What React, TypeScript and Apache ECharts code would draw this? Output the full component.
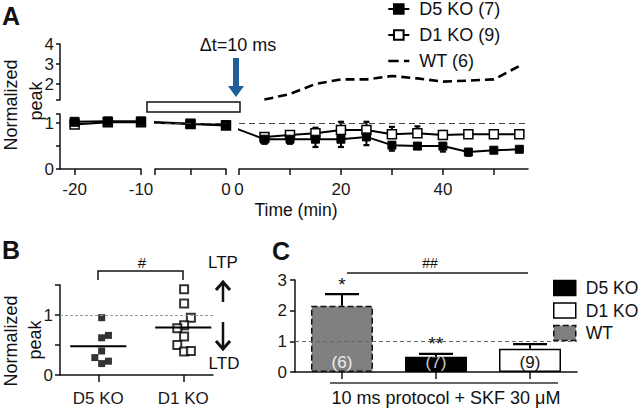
import React, { useEffect, useRef } from 'react';
import * as echarts from 'echarts';

const FONT = 'Arial, "Liberation Sans", Helvetica, sans-serif';

// ---------- Panel A data ----------
const preTimesA1 = [-20, -15, -10];
const preTimesA2 = [-5, 0];
const preD5 = [1.03, 1.04, 1.04, 0.99, 0.96];
const preD1 = [0.97, 1.02, 1.02, 0.98, 0.95];
const postTimes = [5, 10, 15, 20, 25, 30, 35, 40, 45, 50, 55];
const postD5 = [0.65, 0.65, 0.65, 0.65, 0.7, 0.52, 0.5, 0.5, 0.37, 0.41, 0.43];
const postD5Low = [0.55, 0.55, 0.48, 0.48, 0.52, 0.4, 0.46, 0.38, 0.29, 0.37, 0.4];
const postD1 = [0.7, 0.74, 0.78, 0.85, 0.85, 0.76, 0.78, 0.74, 0.76, 0.76, 0.76];
const postD1High = [0.76, 0.8, 0.9, 1.03, 1.03, 0.92, 0.93, 0.83, 0.8, 0.8, 0.79];
const postWT = [1.22, 1.5, 2.0, 2.23, 2.23, 2.4, 2.28, 2.12, 2.17, 2.23, 2.9];
const bridgePre = -12; // time position in segment 2 matching the end of segment 1
const bridgePost = [-1, 0.9];
const namesA = ['D5 KO (7)', 'D1 KO (9)', 'WT (6)'];

// ---------- Panel B data ----------
const bCats = ['D5 KO', 'D1 KO'];
const bD5 = [0.955, 0.62, 0.66, 0.4, 0.29, 0.19, 0.23];
const bD5Jitter = [0.04, 0.04, 0.12, 0.04, -0.04, 0.04, 0.12];
const bD1 = [1.43, 1.19, 0.955, 0.83, 0.78, 0.64, 0.5, 0.39, 0.4];
const bD1Jitter = [0.01, 0.01, 0.09, 0.01, -0.07, 0.01, -0.07, 0.01, 0.09];
const bMeans = [0.48, 0.79];

// ---------- Panel C data ----------
const cCats = ['WT', 'D5 KO', 'D1 KO'];
const cMeans = [2.16, 0.5, 0.76];
const cErrTop = [2.54, 0.59, 0.91];
const cN = ['(6)', '(7)', '(9)'];
const cSig = ['*', '**', ''];
const cLegend = ['D5 KO', 'D1 KO', 'WT'];

const AX = { onZero: false, lineStyle: { color: '#111', width: 1.5 } };
const TICK = (vals: number[], len = 5) => ({ show: true, customValues: vals, length: len, lineStyle: { color: '#111', width: 1.5 } });
const LAB = (vals: number[], margin: number, extra: any = {}) => ({
  show: true, customValues: vals, margin, fontSize: 17, color: '#1a1a1a', fontFamily: FONT, ...extra,
});

function errRender(capHalf: number, withSig: boolean) {
  return (params: any, api: any) => {
    const x = api.value(0);
    const v = api.value(1);
    const e = api.value(2);
    const p1 = api.coord([x, v]);
    const p2 = api.coord([x, e]);
    const children: any[] = [
      { type: 'line', shape: { x1: p1[0], y1: p1[1], x2: p2[0], y2: p2[1] }, style: { stroke: '#000', lineWidth: 2 } },
      { type: 'line', shape: { x1: p2[0] - capHalf, y1: p2[1], x2: p2[0] + capHalf, y2: p2[1] }, style: { stroke: '#000', lineWidth: 2.2 } },
    ];
    if (withSig) {
      const s = cSig[params.dataIndex];
      if (s) {
        children.push({
          type: 'text',
          style: {
            text: s, x: p2[0], y: p2[1] - 10, fontSize: 19, fontFamily: FONT, fill: '#111',
            textAlign: 'center', textVerticalAlign: 'middle', align: 'center', verticalAlign: 'middle',
          },
        });
      }
    }
    return { type: 'group', children };
  };
}

function meanRender(half: number) {
  return (params: any, api: any) => {
    const x = api.value(0);
    const m = api.value(1);
    const a = api.coord([x - half, m]);
    const b = api.coord([x + half, m]);
    return { type: 'line', shape: { x1: a[0], y1: a[1], x2: b[0], y2: b[1] }, style: { stroke: '#000', lineWidth: 2 } };
  };
}

function txt(text: string, x: number, y: number, size: number, extra: any = {}, rot = 0) {
  return {
    type: 'text', x, y, rotation: rot, silent: true,
    style: {
      text, fontSize: size, fontFamily: FONT, fill: '#111',
      textAlign: 'center', textVerticalAlign: 'middle', align: 'center', verticalAlign: 'middle', ...extra,
    },
  };
}

export default function App() {
  const ref = useRef<HTMLDivElement>(null);
  useEffect(() => {
    if (!ref.current) return;
    const chart = echarts.init(ref.current, undefined, { renderer: 'svg' });

    const lineD5 = { color: '#000', borderColor: '#000', borderWidth: 1 };
    const lineD1 = { color: '#fff', borderColor: '#000', borderWidth: 1.5 };
    const lStyle = { color: '#000', width: 2 };
    const refLine = {
      silent: true, symbol: 'none', data: [{ yAxis: 1 }], label: { show: false },
      lineStyle: { type: [6, 4], color: '#444', width: 1.2 },
    };

    const option: any = {
      animation: false,
      backgroundColor: '#fff',
      textStyle: { fontFamily: FONT },
      grid: [
        { left: 60, top: 114, width: 81, height: 55 },
        { left: 155, top: 114, width: 71, height: 55 },
        { left: 239, top: 114, width: 289, height: 55 },
        { left: 60, top: 44, width: 468, height: 56 },
        { left: 60, top: 285, width: 153, height: 90 },
        { left: 295, top: 280, width: 282, height: 92 },
      ],
      xAxis: [
        { gridIndex: 0, type: 'value', min: -22.2, max: -10, axisLine: AX, axisTick: TICK([-20, -10], 6), axisLabel: LAB([-20, -10], 12), splitLine: { show: false } },
        { gridIndex: 1, type: 'value', min: -10, max: 0, axisLine: AX, axisTick: TICK([-10, -5, 0], 6), axisLabel: LAB([0], 12), splitLine: { show: false } },
        { gridIndex: 2, type: 'value', min: 0, max: 56.7, axisLine: AX, axisTick: TICK([0, 10, 20, 30, 40, 50], 6), axisLabel: LAB([0, 20, 40], 12), splitLine: { show: false } },
        { gridIndex: 3, type: 'value', min: -35.1, max: 56.7, show: false, axisLine: { onZero: false } },
        {
          gridIndex: 4, type: 'value', min: 0.55, max: 2.35, axisLine: AX, axisTick: TICK([1, 2], 7),
          axisLabel: LAB([1, 2], 15, { formatter: (v: number) => bCats[Math.round(v) - 1] }), splitLine: { show: false },
        },
        {
          gridIndex: 5, type: 'category', data: cCats, axisLine: AX,
          axisTick: { show: true, alignWithLabel: true, length: 7, lineStyle: { color: '#111', width: 1.5 } },
          axisLabel: { show: false }, splitLine: { show: false },
        },
      ],
      yAxis: [
        { gridIndex: 0, type: 'value', min: 0, max: 1.2, position: 'left', axisLine: { show: true, ...AX }, axisTick: TICK([0, 0.5, 1, 1.2], 4), axisLabel: LAB([0, 1], 6), splitLine: { show: false } },
        { gridIndex: 1, type: 'value', min: 0, max: 1.2, show: false, axisLine: { onZero: false } },
        { gridIndex: 2, type: 'value', min: 0, max: 1.2, show: false, axisLine: { onZero: false } },
        {
          gridIndex: 3, type: 'value', min: 1.2, max: 4, position: 'left',
          axisLine: { show: true, ...AX },
          axisTick: TICK([1.2, 2, 3, 4], 4),
          axisLabel: LAB([2, 3, 4], 6), splitLine: { show: false },
        },
        { gridIndex: 4, type: 'value', min: 0, max: 1.5, position: 'left', axisLine: { show: true, ...AX }, axisTick: TICK([0, 0.5, 1, 1.5], 5), axisLabel: LAB([0, 1], 7), splitLine: { show: false } },
        {
          gridIndex: 5, type: 'value', min: 0, max: 3, interval: 1, position: 'left', axisLine: { show: true, ...AX },
          axisTick: { show: true, length: 5, lineStyle: { color: '#111', width: 1.5 } },
          axisLabel: { fontSize: 17, color: '#1a1a1a', margin: 8, fontFamily: FONT }, splitLine: { show: false },
        },
      ],
      legend: [
        {
          left: 387, top: 0, padding: 0, orient: 'vertical', itemWidth: 21, itemHeight: 12, itemGap: 8,
          selectedMode: false,
          data: [
            { name: namesA[0] },
            { name: namesA[1] },
            { name: namesA[2], itemStyle: { color: 'rgba(0,0,0,0)', borderWidth: 0, opacity: 0 }, lineStyle: { type: 'dashed', width: 2.6, color: '#000' } },
          ],
          textStyle: { fontSize: 18, color: '#111', fontFamily: FONT, padding: [0, 0, 0, 5] },
        },
        {
          left: 553, top: 279, padding: 0, orient: 'vertical', itemWidth: 22, itemHeight: 15, itemGap: 4.5,
          selectedMode: false, icon: 'rect',
          data: [
            { name: cLegend[0], itemStyle: { color: '#000', borderColor: '#000', borderWidth: 1.5 } },
            { name: cLegend[1], itemStyle: { color: '#fff', borderColor: '#000', borderWidth: 1.5 } },
            { name: cLegend[2], itemStyle: { color: '#808080', borderColor: '#111', borderWidth: 1.5, borderType: 'dashed' } },
          ],
          textStyle: { fontSize: 17.5, color: '#111', fontFamily: FONT, padding: [0, 0, 0, 5] },
        },
      ],
      series: [
        // ---- A, segment 1
        { type: 'line', name: namesA[1], xAxisIndex: 0, yAxisIndex: 0, symbol: 'rect', symbolSize: 9, itemStyle: lineD1, lineStyle: lStyle, data: preTimesA1.map((t, i) => [t, preD1[i]]), clip: false },
        { type: 'line', name: namesA[0], xAxisIndex: 0, yAxisIndex: 0, symbol: 'rect', symbolSize: 9, itemStyle: lineD5, lineStyle: lStyle, data: preTimesA1.map((t, i) => [t, preD5[i]]), clip: false },
        // ---- A, segment 2
        {
          type: 'line', name: namesA[1], xAxisIndex: 1, yAxisIndex: 1, symbol: 'rect', symbolSize: 9, itemStyle: lineD1, lineStyle: lStyle, clip: false,
          data: [{ value: [bridgePre, preD1[2]], symbol: 'none' }, ...preTimesA2.map((t, i) => [t, preD1[i + 3]])],
          markLine: refLine,
        },
        {
          type: 'line', name: namesA[0], xAxisIndex: 1, yAxisIndex: 1, symbol: 'rect', symbolSize: 9, itemStyle: lineD5, lineStyle: lStyle, clip: false,
          data: [{ value: [bridgePre, preD5[2]], symbol: 'none' }, ...preTimesA2.map((t, i) => [t, preD5[i + 3]])],
        },
        // ---- A, segment 3
        { type: 'custom', xAxisIndex: 2, yAxisIndex: 2, renderItem: errRender(3, false), data: postTimes.map((t, i) => [t, postD1[i], postD1High[i]]), encode: { x: 0, y: [1, 2] }, clip: false, z: 1 },
        { type: 'custom', xAxisIndex: 2, yAxisIndex: 2, renderItem: errRender(3, false), data: postTimes.map((t, i) => [t, postD5[i], postD5Low[i]]), encode: { x: 0, y: [1, 2] }, clip: false, z: 1 },
        {
          type: 'line', name: namesA[1], xAxisIndex: 2, yAxisIndex: 2, symbol: 'rect', symbolSize: 9, itemStyle: lineD1, lineStyle: lStyle, clip: false,
          data: postTimes.map((t, i) => [t, postD1[i]]), markLine: refLine, z: 3,
        },
        {
          type: 'line', name: namesA[0], xAxisIndex: 2, yAxisIndex: 2, symbol: 'rect', symbolSize: 8, itemStyle: lineD5, lineStyle: lStyle, clip: false,
          data: [{ value: bridgePost, symbol: 'none' }, ...postTimes.map((t, i) => [t, postD5[i]])], z: 4,
        },
        // ---- A, upper (WT)
        {
          type: 'line', name: namesA[2], xAxisIndex: 3, yAxisIndex: 3, symbol: 'none', showSymbol: false,
          lineStyle: { color: '#000', width: 2.6, type: [9, 5] }, itemStyle: { color: '#000' },
          data: postTimes.map((t, i) => [t, postWT[i]]),
        },
        // ---- B
        {
          type: 'scatter', name: 'B D5', xAxisIndex: 4, yAxisIndex: 4, symbol: 'rect', symbolSize: 7,
          itemStyle: { color: '#000' }, data: bD5.map((v, i) => [1 + bD5Jitter[i], v]),
          markLine: { silent: true, symbol: 'none', data: [{ yAxis: 1 }], label: { show: false }, lineStyle: { type: [3, 2], color: '#999', width: 1 } },
        },
        {
          type: 'scatter', name: 'B D1', xAxisIndex: 4, yAxisIndex: 4, symbol: 'rect', symbolSize: 8,
          itemStyle: { color: '#fff', borderColor: '#000', borderWidth: 2 }, data: bD1.map((v, i) => [2 + bD1Jitter[i], v]),
        },
        { type: 'custom', xAxisIndex: 4, yAxisIndex: 4, renderItem: meanRender(0.33), data: bMeans.map((m, i) => [i + 1, m]), encode: { x: 0, y: 1 }, z: 5 },
        // ---- C
        {
          type: 'bar', name: 'WT', xAxisIndex: 5, yAxisIndex: 5, barWidth: 62, barGap: '-100%',
          data: cCats.map((_, j) => (j === 0 ? cMeans[0] : '-')),
          itemStyle: { color: '#808080', borderColor: '#111', borderWidth: 1.5, borderType: 'dashed' },
          label: { show: true, position: 'insideBottom', distance: 1, formatter: cN[0], color: '#eee', fontSize: 17, fontFamily: FONT },
          markLine: { silent: true, symbol: 'none', data: [{ yAxis: 1 }], label: { show: false }, lineStyle: { type: [4, 3], color: '#666', width: 1 } },
        },
        {
          type: 'bar', name: 'D5 KO', xAxisIndex: 5, yAxisIndex: 5, barWidth: 62, barGap: '-100%',
          data: cCats.map((_, j) => (j === 1 ? cMeans[1] : '-')),
          itemStyle: { color: '#000' },
          label: { show: true, position: 'insideBottom', distance: 1, formatter: cN[1], color: '#ccc', fontSize: 17, fontFamily: FONT },
        },
        {
          type: 'bar', name: 'D1 KO', xAxisIndex: 5, yAxisIndex: 5, barWidth: 62, barGap: '-100%',
          data: cCats.map((_, j) => (j === 2 ? cMeans[2] : '-')),
          itemStyle: { color: '#fff', borderColor: '#000', borderWidth: 1.5 },
          label: { show: true, position: 'insideBottom', distance: 1, formatter: cN[2], color: '#111', fontSize: 17, fontFamily: FONT },
        },
        { type: 'custom', xAxisIndex: 5, yAxisIndex: 5, renderItem: errRender(17, true), data: cCats.map((_, i) => [i, cMeans[i], cErrTop[i]]), encode: { x: 0, y: [1, 2] }, clip: false, z: 5 },
      ],
      graphic: [
        txt('A', 11, 16, 25, { fontWeight: 'bold' }),
        txt('B', 11, 250, 25, { fontWeight: 'bold' }),
        txt('C', 281, 251, 25, { fontWeight: 'bold' }),
        txt('Normalized', 11, 105, 18, {}, Math.PI / 2),
        txt('peak', 36, 101, 18, {}, Math.PI / 2),
        txt('Normalized', 11, 341, 18, {}, Math.PI / 2),
        txt('peak', 35, 340, 18, {}, Math.PI / 2),
        txt('Time (min)', 296, 210, 17.5),
        // stimulation bar and arrow
        { type: 'rect', shape: { x: 147, y: 102, width: 93, height: 10 }, style: { fill: '#fff', stroke: '#111', lineWidth: 1.5 }, silent: true },
        { type: 'rect', shape: { x: 233, y: 58, width: 6, height: 29 }, style: { fill: '#1f5e96' }, silent: true },
        { type: 'polygon', shape: { points: [[228, 86], [244, 86], [236, 97]] }, style: { fill: '#1f5e96' }, silent: true },
        txt('\u0394t=10 ms', 238, 45, 18),
        // panel B annotations
        { type: 'polyline', shape: { points: [[98, 280], [98, 271], [183, 271], [183, 280]] }, style: { stroke: '#111', lineWidth: 1.5, fill: null }, silent: true },
        txt('#', 142, 262, 15),
        txt('LTP', 223, 262, 17),
        { type: 'line', shape: { x1: 223, y1: 302, x2: 223, y2: 283 }, style: { stroke: '#111', lineWidth: 2.5 }, silent: true },
        { type: 'polyline', shape: { points: [[216, 290], [223, 282], [230, 290]] }, style: { stroke: '#111', lineWidth: 3, fill: null }, silent: true },
        { type: 'line', shape: { x1: 223, y1: 322, x2: 223, y2: 348 }, style: { stroke: '#111', lineWidth: 2.5 }, silent: true },
        { type: 'polyline', shape: { points: [[216, 341], [223, 349], [230, 341]] }, style: { stroke: '#111', lineWidth: 3, fill: null }, silent: true },
        txt('LTD', 224, 363, 17),
        // panel C annotations
        { type: 'line', shape: { x1: 347, y1: 273, x2: 528, y2: 273 }, style: { stroke: '#555', lineWidth: 2 }, silent: true },
        txt('##', 430, 263, 14),
        { type: 'line', shape: { x1: 330, y1: 383, x2: 558, y2: 383 }, style: { stroke: '#333', lineWidth: 1.5 }, silent: true },
        txt('10 ms protocol + SKF 30 \u03bcM', 446, 398, 18),
      ],
    };

    chart.setOption(option);
    return () => chart.dispose();
  }, []);

  return (
    <div
      ref={ref}
      style={{ position: 'absolute', left: 0, top: 0, width: 640, height: 408, background: '#fff' }}
    />
  );
}
